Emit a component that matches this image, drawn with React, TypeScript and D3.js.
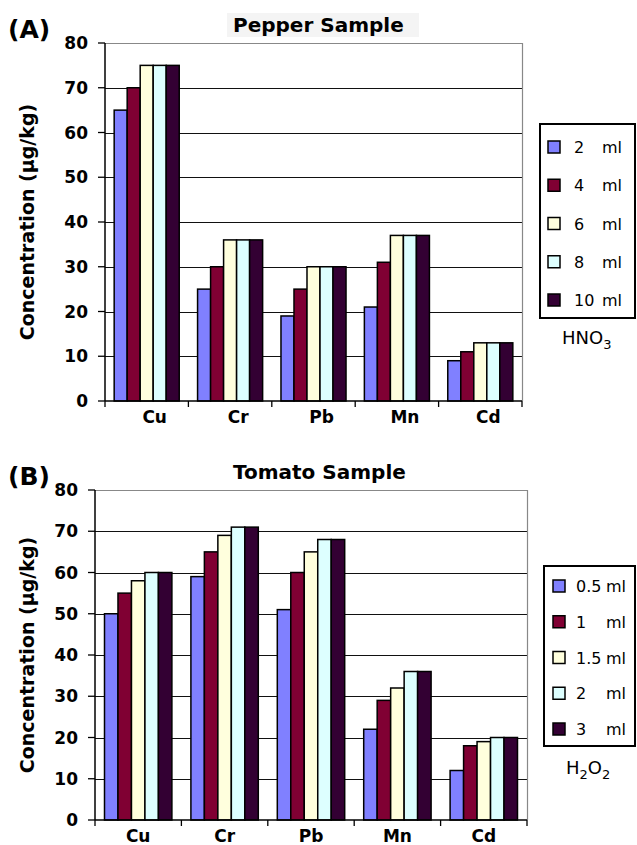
import { useEffect, useRef } from "react";
import * as d3 from "d3";

const metals = ["Cu", "Cr", "Pb", "Mn", "Cd"];
const yTicks = [0, 10, 20, 30, 40, 50, 60, 70, 80];
const colors = ["#8080ff", "#800033", "#ffffdd", "#ddffff", "#330033"];

// Pepper sample, HNO3 volume
const hno3Labels = ["2", "4", "6", "8", "10"];
const pepper2 = [65, 25, 19, 21, 9];
const pepper4 = [70, 30, 25, 31, 11];
const pepper6 = [75, 36, 30, 37, 13];
const pepper8 = [75, 36, 30, 37, 13];
const pepper10 = [75, 36, 30, 37, 13];

// Tomato sample, H2O2 volume
const h2o2Labels = ["0.5", "1", "1.5", "2", "3"];
const tomato05 = [50, 59, 51, 22, 12];
const tomato1 = [55, 65, 60, 29, 18];
const tomato15 = [58, 69, 65, 32, 19];
const tomato2 = [60, 71, 68, 36, 20];
const tomato3 = [60, 71, 68, 36, 20];

const FONT = "'DejaVu Sans', Verdana, sans-serif";

function drawPanel(svg, opt) {
  const { left, right, top, bottom, series, labels, title, tag, reagent, sub } = opt;
  const g = svg.append("g");

  const x0 = d3.scaleBand().domain(metals).range([left, right]);
  const bw = x0.bandwidth();
  const x1 = d3
    .scaleBand()
    .domain(d3.range(series.length).map(String))
    .range([bw * 0.11, bw * 0.89]);
  const y = d3.scaleLinear().domain([0, 80]).range([bottom, top]);

  // title
  if (opt.titleBg) {
    g.append("rect")
      .attr("x", 227)
      .attr("y", top - 30)
      .attr("width", 192)
      .attr("height", 24)
      .attr("fill", "#f4f4f4");
  }
  g.append("text")
    .attr("x", 233)
    .attr("y", top - 11)
    .attr("font-family", FONT)
    .attr("font-weight", "bold")
    .attr("font-size", 20)
    .text(title);
  g.append("text")
    .attr("x", 8)
    .attr("y", top - 5)
    .attr("font-family", FONT)
    .attr("font-weight", "bold")
    .attr("font-size", 25)
    .text(tag);

  // gridlines
  g.selectAll(".grid")
    .data(yTicks.filter((t) => t > 0 && t < 80))
    .enter()
    .append("line")
    .attr("x1", left)
    .attr("x2", right)
    .attr("y1", (d) => Math.round(y(d)) + 0.5)
    .attr("y2", (d) => Math.round(y(d)) + 0.5)
    .attr("stroke", "#111")
    .attr("stroke-width", 1.2);

  // frame top/right
  g.append("path")
    .attr("d", `M${left},${top + 0.5}H${right + 0.5}V${bottom}`)
    .attr("fill", "none")
    .attr("stroke", "#888")
    .attr("stroke-width", 1.2);

  // bars
  series.forEach((vals, si) => {
    g.selectAll(".bar" + si)
      .data(vals)
      .enter()
      .append("rect")
      .attr("x", (d, i) => x0(metals[i]) + x1(String(si)))
      .attr("y", (d) => y(d))
      .attr("width", x1.bandwidth())
      .attr("height", (d) => y(0) - y(d))
      .attr("fill", colors[si])
      .attr("stroke", "#000")
      .attr("stroke-width", 1.5);
  });

  // y axis
  g.append("line")
    .attr("x1", left)
    .attr("x2", left)
    .attr("y1", top)
    .attr("y2", bottom)
    .attr("stroke", "#000")
    .attr("stroke-width", 1.5);
  g.selectAll(".ytick")
    .data(yTicks)
    .enter()
    .append("line")
    .attr("x1", left - 7)
    .attr("x2", left)
    .attr("y1", (d) => y(d))
    .attr("y2", (d) => y(d))
    .attr("stroke", "#000")
    .attr("stroke-width", 1.3);
  g.selectAll(".ylab")
    .data(yTicks)
    .enter()
    .append("text")
    .attr("x", left - 17)
    .attr("y", (d) => y(d) + 6)
    .attr("text-anchor", "end")
    .attr("font-family", FONT)
    .attr("font-weight", "bold")
    .attr("font-size", 17)
    .text((d) => d);

  // x axis
  g.append("line")
    .attr("x1", left)
    .attr("x2", right)
    .attr("y1", bottom)
    .attr("y2", bottom)
    .attr("stroke", "#000")
    .attr("stroke-width", 1.5);
  g.selectAll(".xtick")
    .data(d3.range(metals.length + 1))
    .enter()
    .append("line")
    .attr("x1", (i) => left + i * bw)
    .attr("x2", (i) => left + i * bw)
    .attr("y1", bottom)
    .attr("y2", bottom + 6)
    .attr("stroke", "#000")
    .attr("stroke-width", 1.3);
  g.selectAll(".xlab")
    .data(metals)
    .enter()
    .append("text")
    .attr("x", (d) => x0(d) + bw / 2 + opt.labelDx)
    .attr("y", bottom + 22)
    .attr("text-anchor", "middle")
    .attr("font-family", FONT)
    .attr("font-weight", "bold")
    .attr("font-size", 17)
    .text((d) => d);

  // y title
  g.append("text")
    .attr("transform", `translate(34,${(top + bottom) / 2}) rotate(-90)`)
    .attr("text-anchor", "middle")
    .attr("font-family", FONT)
    .attr("font-weight", "bold")
    .attr("font-size", 19)
    .text("Concentration (µg/kg)");

  // legend
  const L = opt.legend;
  g.append("rect")
    .attr("x", L.x)
    .attr("y", L.y)
    .attr("width", L.w)
    .attr("height", L.h)
    .attr("fill", "#fff")
    .attr("stroke", "#000")
    .attr("stroke-width", 2);
  const ly = d3
    .scalePoint()
    .domain(labels)
    .range([L.first, L.last]);
  labels.forEach((lab, i) => {
    const cy = ly(lab);
    g.append("rect")
      .attr("x", L.sx)
      .attr("y", cy - 6)
      .attr("width", 12)
      .attr("height", 12)
      .attr("fill", colors[i])
      .attr("stroke", "#000")
      .attr("stroke-width", 1.5);
    g.append("text")
      .attr("x", L.tx)
      .attr("y", cy + 6)
      .attr("font-family", FONT)
      .attr("font-size", 16)
      .text(lab);
    g.append("text")
      .attr("x", L.mx)
      .attr("y", cy + 6)
      .attr("text-anchor", "end")
      .attr("font-family", FONT)
      .attr("font-size", 16)
      .text("ml");
  });

  const rt = g
    .append("text")
    .attr("x", reagent.x)
    .attr("y", reagent.y)
    .attr("font-family", FONT)
    .attr("font-size", 18);
  sub.forEach((part) => {
    rt.append("tspan")
      .attr("font-size", part.s ? 13 : 18)
      .attr("dy", part.s ? 5 : part.back ? -5 : 0)
      .text(part.t);
  });
}

export default function App() {
  const ref = useRef(null);

  useEffect(() => {
    const svg = d3.select(ref.current);
    svg.selectAll("*").remove();

    drawPanel(svg, {
      left: 105,
      right: 522,
      top: 43,
      bottom: 401,
      series: [pepper2, pepper4, pepper6, pepper8, pepper10],
      labels: hno3Labels,
      title: "Pepper Sample",
      titleBg: true,
      tag: "(A)",
      labelDx: 8,
      legend: { x: 540, y: 124, w: 95, h: 194, first: 147, last: 300, sx: 548, tx: 574, mx: 622 },
      reagent: { x: 562, y: 344 },
      sub: [{ t: "HNO" }, { t: "3", s: true }],
    });

    drawPanel(svg, {
      left: 95,
      right: 527,
      top: 490,
      bottom: 820,
      series: [tomato05, tomato1, tomato15, tomato2, tomato3],
      labels: h2o2Labels,
      title: "Tomato Sample",
      titleBg: false,
      tag: "(B)",
      labelDx: 0,
      legend: { x: 544, y: 566, w: 91, h: 180, first: 586, last: 729, sx: 553, tx: 576, mx: 626 },
      reagent: { x: 566, y: 774 },
      sub: [{ t: "H" }, { t: "2", s: true }, { t: "O", back: true }, { t: "2", s: true }],
    });
  }, []);

  return (
    <div style={{ position: "absolute", left: 0, top: 0, background: "#fff" }}>
      <svg ref={ref} width={637} height={845} />
    </div>
  );
}
